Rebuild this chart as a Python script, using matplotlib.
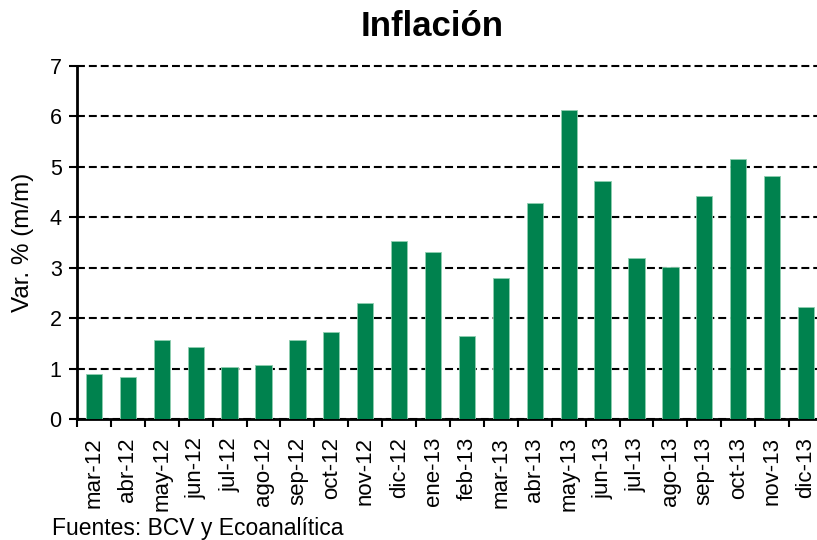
import matplotlib
matplotlib.use('Agg')
import matplotlib.pyplot as plt
import numpy as np

plt.rcParams['font.family'] = ['Liberation Sans', 'DejaVu Sans']

# monthly inflation data
months = ['mar-12', 'abr-12', 'may-12', 'jun-12', 'jul-12', 'ago-12', 'sep-12',
          'oct-12', 'nov-12', 'dic-12', 'ene-13', 'feb-13', 'mar-13', 'abr-13',
          'may-13', 'jun-13', 'jul-13', 'ago-13', 'sep-13', 'oct-13', 'nov-13',
          'dic-13']
inflation = [0.89, 0.83, 1.57, 1.43, 1.03, 1.07, 1.57, 1.73, 2.30, 3.53, 3.31,
             1.65, 2.80, 4.29, 6.12, 4.72, 3.19, 3.01, 4.42, 5.15, 4.82, 2.22]

fig = plt.figure(figsize=(8.17, 5.4), dpi=100)
# axes extends slightly past the right edge, like the cropped original
ax = fig.add_axes([77 / 817, 1 - 419 / 540, 746 / 817, 353 / 540])

x = np.arange(len(months))
ax.bar(x, inflation, width=0.48, color='#00824E', edgecolor='#8fcfb0',
       linewidth=0.6, zorder=3)

ax.set_xlim(-0.5, len(months) - 0.5)
ax.set_ylim(0, 7)
ax.set_yticks(range(0, 8))
ax.yaxis.grid(True, linestyle=(0, (3.8, 1.9)), color='black', linewidth=1.5, zorder=1)
for gl in ax.get_ygridlines():
    gl.set_clip_on(False)

ax.set_xticks(x)
ax.set_xticklabels(months, rotation=90, fontsize=16)
ax.set_xticks(np.arange(-0.5, len(months)), minor=True)
ax.tick_params(axis='x', which='major', length=0, pad=13)
ax.tick_params(axis='x', which='minor', length=6, width=1.5, direction='out')
ax.tick_params(axis='y', labelsize=15.5, length=6, width=1.5, pad=5)

for s in ['top', 'right']:
    ax.spines[s].set_visible(False)
for s in ['left', 'bottom']:
    ax.spines[s].set_linewidth(2)

ax.set_ylabel('Var. % (m/m)', fontsize=17.5)
ax.yaxis.set_label_coords(-(77 - 34) / 746, 0.5)
fig.text(432 / 817, 1 - 27 / 540, 'Inflación', fontsize=25, fontweight='bold',
         ha='center', va='center')
fig.text(52 / 817, 1 - 528 / 540, 'Fuentes: BCV y Ecoanalítica', fontsize=16.5,
         ha='left', va='center')

fig.savefig('out.png', dpi=100)
plt.close(fig)
